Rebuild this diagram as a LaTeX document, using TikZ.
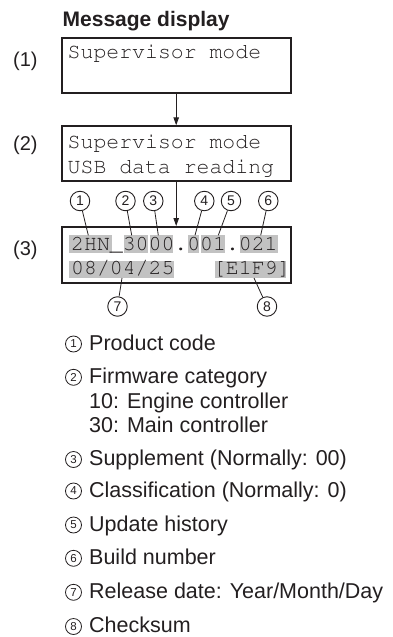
\documentclass[tikz,border=0pt]{standalone}
\usepackage[T1]{fontenc}
\usepackage{fontspec}
\setmainfont{Liberation Sans}
\usetikzlibrary{arrows.meta}
\newcommand\courfont{\fontencoding{T1}\fontfamily{pcr}\selectfont}
\definecolor{ink}{HTML}{231F20}
\definecolor{hlgrey}{HTML}{C2C2C2}
\tikzset{
  box/.style={draw=ink, line width=2pt, minimum width=229pt, inner sep=0},
  disp/.style={font=\courfont\fontsize{21.5}{25}\selectfont, anchor=base west, inner sep=0, text=ink},
  hl/.style={fill=hlgrey, draw=none},
  lbl/.style={font=\fontsize{20}{24}\selectfont, anchor=base west, inner sep=0, text=ink},
  callout/.style={circle, draw=ink, line width=0.9pt, minimum size=19.5pt, inner sep=0, font=\fontsize{14}{14}\selectfont, text=ink},
  lcirc/.style={circle, draw=ink, line width=0.8pt, minimum size=16pt, inner sep=0, font=\fontsize{11.5}{11.5}\selectfont, text=ink},
  item/.style={font=\fontsize{21.5}{24}\selectfont, anchor=base west, inner sep=0, text=ink},
  leader/.style={draw=ink, line width=0.8pt},
  flow/.style={draw=ink, line width=0.9pt, -{Triangle[length=8pt,width=5.5pt]}}
}
\begin{document}
\begin{tikzpicture}[x=1pt, y=-1pt]
\useasboundingbox (0,0) rectangle (392,637);
% title
\node[font=\bfseries\fontsize{21}{24}\selectfont, anchor=base west, inner sep=0, text=ink] (title) at (62.5,26) {Message display};
% step labels
\node[lbl] (l1) at (13,66.5) {(1)};
\node[lbl] (l2) at (13,150) {(2)};
\node[lbl] (l3) at (13,255) {(3)};
% boxes
\node[box, minimum height=54.7pt] (b1) at (176.2,65.65) {};
\node[box, minimum height=55pt] (b2) at (176.2,153.8) {};
\node[box, minimum height=56pt] (b3) at (176.2,255) {};
\draw[flow] (b1.south) -- (b2.north);
\draw[flow] (b2.south) -- (b3.north);
% box texts
\node[disp] (t1) at (67.5,58) {Supervisor mode};
\node[disp] (t2a) at (67.5,148.3) {Supervisor mode};
\node[disp] (t2b) at (67.5,173.3) {USB data reading};
% highlights
\path[hl] (69.3,235.3) rectangle (112,253);
\path[hl] (123.7,235.3) rectangle (148,253);
\path[hl] (149.7,235.3) rectangle (172.5,253);
\path[hl] (187.7,235.3) rectangle (199,253);
\path[hl] (201,235.3) rectangle (225,253);
\path[hl] (240,235.3) rectangle (277.7,253);
\path[hl] (69.3,261) rectangle (173.7,278);
\path[hl] (215,261) rectangle (285.5,278);
\node[disp] (r1) at (71,250.7) {2HN\_3000.001.021};
\node[disp] (r2) at (71,274.7) {08/04/25\ \ \ [E1F9]};
% callouts
\node[callout] (c1) at (80,201) {1};
\node[callout] (c2) at (125.5,201) {2};
\node[callout] (c3) at (153.3,201) {3};
\node[callout] (c4) at (204.3,201) {4};
\node[callout] (c5) at (231,201) {5};
\node[callout] (c6) at (268.3,201) {6};
\node[callout] (c7) at (117.5,306.5) {7};
\node[callout] (c8) at (267,306.5) {8};
\coordinate (e1) at (88.3,235.3);
\coordinate (e2) at (131.7,235.3);
\coordinate (e3) at (158.3,235.3);
\coordinate (e4) at (195,235.3);
\coordinate (e5) at (218.3,235.3);
\coordinate (e6) at (260.7,235.3);
\coordinate (e7) at (122,278);
\coordinate (e8) at (254,278);
\draw[leader] (c1) -- (e1);
\draw[leader] (c2) -- (e2);
\draw[leader] (c3) -- (e3);
\draw[leader] (c4) -- (e4);
\draw[leader] (c5) -- (e5);
\draw[leader] (c6) -- (e6);
\draw[leader] (c7) -- (e7);
\draw[leader] (c8) -- (e8);
% legend
\node[lcirc] (k1) at (73.5,344) {1};
\node[item] (i1) at (89,350) {Product code};
\node[lcirc] (k2) at (73.5,377.3) {2};
\node[item] (i2) at (89,383.3) {Firmware category};
\node[item] (i2a) at (89,408.3) {10: Engine controller};
\node[item] (i2b) at (89,432.3) {30: Main controller};
\node[lcirc] (k3) at (73.5,459.5) {3};
\node[item] (i3) at (89,465.5) {Supplement (Normally: 00)};
\node[lcirc] (k4) at (73.5,491) {4};
\node[item] (i4) at (89,497) {Classification (Normally: 0)};
\node[lcirc] (k5) at (73.5,525) {5};
\node[item] (i5) at (89,531) {Update history};
\node[lcirc] (k6) at (73.5,558.3) {6};
\node[item] (i6) at (89,564.3) {Build number};
\node[lcirc] (k7) at (73.5,592.3) {7};
\node[item] (i7) at (89,598.3) {Release date: Year/Month/Day};
\node[lcirc] (k8) at (73.5,626.5) {8};
\node[item] (i8) at (89,632.5) {Checksum};
\end{tikzpicture}
\end{document}
